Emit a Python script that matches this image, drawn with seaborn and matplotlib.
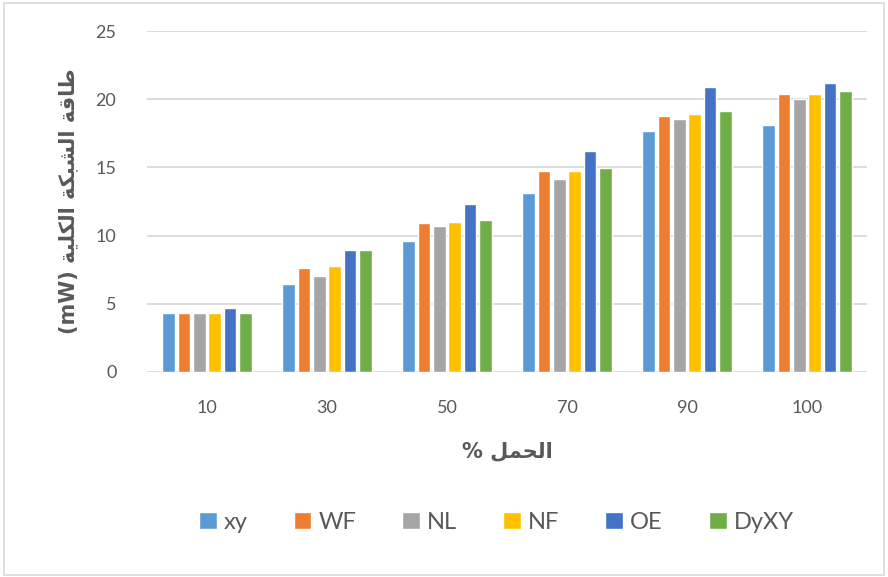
import pandas as pd
import seaborn as sns
from matplotlib import pyplot as plt
from matplotlib.patches import Rectangle

loads = ['10', '30', '50', '70', '90', '100']
series = ['xy', 'WF', 'NL', 'NF', 'OE', 'DyXY']

xy = [4.3, 6.43, 9.6, 13.15, 17.7, 18.1]
wf = [4.3, 7.6, 10.9, 14.7, 18.75, 20.35]
nl = [4.3, 7.06, 10.7, 14.15, 18.55, 20.05]
nf = [4.3, 7.77, 11.0, 14.75, 18.95, 20.35]
oe = [4.7, 8.94, 12.3, 16.2, 20.9, 21.2]
dyxy = [4.3, 8.94, 11.15, 14.95, 19.1, 20.6]

colors = ['#5B9BD5', '#ED7D31', '#A5A5A5', '#FFC000', '#4472C4', '#70AD47']

# arabic text in visual order with presentation forms (no shaping in matplotlib)
ylabel_ar = ('(mW) '
             '\uFE94\uFEF4\uFEE0\uFEDC\uFEDF\uFE8D '
             '\uFE94\uFEDC\uFE92\uFEB8\uFEDF\uFE8D '
             '\uFE94\uFED7\uFE8E\uFEC3')
xlabel_ar = '% \uFEDE\uFEE4\uFEA4\uFEDF\uFE8D'

rows = []
for name, vals in zip(series, [xy, wf, nl, nf, oe, dyxy]):
    for load, v in zip(loads, vals):
        rows.append({'load': load, 'series': name, 'value': v})
df = pd.DataFrame(rows)

sns.set_style('white')
plt.rcParams['font.family'] = ['Lato', 'DejaVu Sans']

fig = plt.figure(figsize=(8.88, 5.77), dpi=100)
ax = fig.add_axes([147 / 888, 1 - 372 / 577, 720 / 888, 341 / 577])

sns.barplot(data=df, x='load', y='value', hue='series', order=loads, hue_order=series,
            palette=colors, width=0.77, gap=0.17, saturation=1, ax=ax, zorder=3)

ax.set_ylim(0, 25)
ax.set_yticks([0, 5, 10, 15, 20, 25])
ax.set_xlim(-0.5, 5.5)
ax.grid(axis='y', color='#D9D9D9', linewidth=1.3, zorder=0)
ax.set_axisbelow(True)
for s in ax.spines.values():
    s.set_visible(False)
ax.tick_params(axis='both', length=0, labelsize=13, colors='#595959')
ax.tick_params(axis='x', pad=20)
ax.tick_params(axis='y', pad=22)

ax.set_xlabel(xlabel_ar, family=['DejaVu Sans'], fontweight='bold', fontsize=15,
              color='#595959', labelpad=18)
ax.set_ylabel(ylabel_ar, family=['DejaVu Sans'], fontweight='bold', fontsize=15,
              color='#595959', labelpad=12)

handles, labels = ax.get_legend_handles_labels()
ax.legend(handles, labels, loc='center', bbox_to_anchor=(0.559, 0.095),
          bbox_transform=fig.transFigure, ncol=6, frameon=False, fontsize=17,
          handlelength=0.75, handleheight=0.75, handletextpad=0.3,
          columnspacing=1.95, labelcolor='#595959')

fig.patches.append(Rectangle((0.004, 0.004), 0.992, 0.99, transform=fig.transFigure,
                             fill=False, edgecolor='#D9D9D9', linewidth=1.2))

plt.savefig('out.png', dpi=100)
